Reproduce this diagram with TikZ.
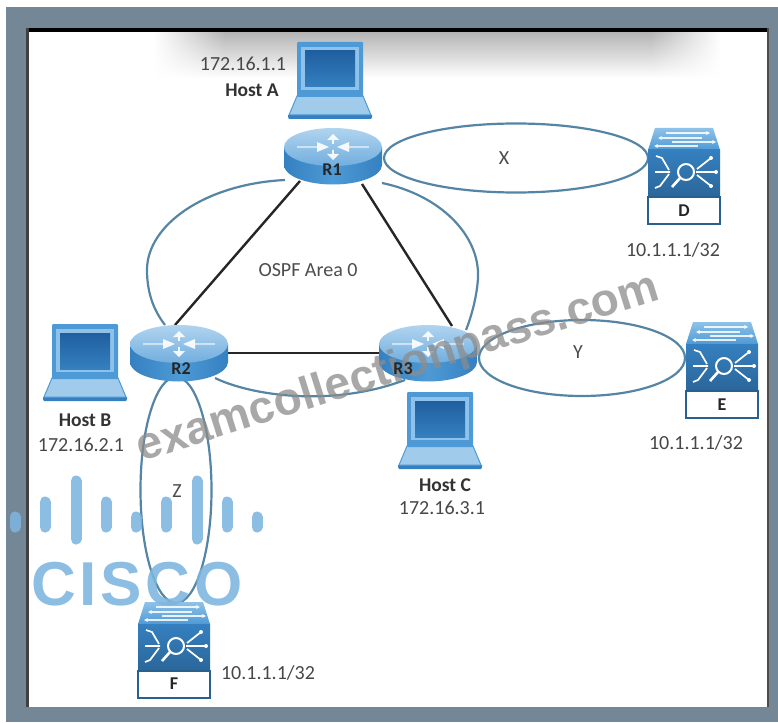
\documentclass[tikz,border=0pt]{standalone}
\usepackage{fontspec}
\setmainfont{Carlito}
\newfontfamily\wmfont{Liberation Sans}
\newfontfamily\ciscofont[LetterSpace=6]{Liberation Sans}
\usetikzlibrary{shapes.geometric,fadings,calc,arrows.meta}
\tikzfading[name=clearright,left color=transparent!0,right color=transparent!100]
\tikzfading[name=clearleft,left color=transparent!100,right color=transparent!0]
\definecolor{frameC}{HTML}{748797}
\definecolor{linkC}{HTML}{5585A5}
\definecolor{blueD}{HTML}{3580C0}
\definecolor{blueM}{HTML}{4E9AD6}
\definecolor{blueL}{HTML}{8FC2E8}
\definecolor{screenD}{HTML}{1F5F9F}
\definecolor{logoC}{HTML}{7DB5DF}
\tikzset{
  x=1pt,y=-1pt,
  ip/.style={font=\fontsize{20}{20}\selectfont,text=black!72,inner sep=0pt},
  host/.style={font=\fontsize{19.5}{19.5}\selectfont\bfseries,text=black!80,inner sep=0pt},
  tag/.style={font=\fontsize{18}{18}\selectfont\bfseries,text=black!85,inner sep=0pt},
  thin label/.style={font=\fontsize{20}{20}\selectfont,text=black!70,inner sep=0pt},
  anchorbox/.style={inner sep=0pt,minimum width=98pt,minimum height=57pt},
  swbox/.style={inner sep=0pt,minimum width=72pt,minimum height=97pt},
  linkline/.style={draw=black!85,line width=2.4pt},
  area/.style={draw=linkC,line width=2.2pt},
  loopring/.style={draw=linkC,line width=2.2pt,ellipse,inner sep=0pt},
  bar/.style={line width=11pt,line cap=round,draw=logoC,opacity=.88},
  pics/router/.style={code={
    \shade[left color=blueD,right color=blueD,middle color=blueM] (-49,-9) -- (-49,9) arc[start angle=180,end angle=360,x radius=49pt,y radius=19.5pt] -- (49,-9) -- cycle;
    \shade[top color=blueL!70!white,bottom color=blueM!80!white] (0,-9) ellipse[x radius=49pt,y radius=19pt];
    \draw[white,opacity=.55,line width=1.2pt] (-36,-9) -- (-15,-9) (15,-9) -- (36,-9);
    \fill[white,opacity=.9] (-16,-14) -- (-4,-9) -- (-16,-4) -- cycle
                            (16,-14) -- (4,-9) -- (16,-4) -- cycle
                            (-6,-16) -- (0,-22) -- (6,-16) -- cycle
                            (-6,-2) -- (0,4) -- (6,-2) -- cycle;
    \draw[white,opacity=.9,line width=1.6pt] (0,-16) -- (0,-12) (0,-6) -- (0,-2);
  }},
  pics/laptop/.style={code={
    \fill[blueD] (-9,73) -- (75,73) -- (75,75) -- (74,77) -- (-8,77) -- (-9,75) -- cycle;
    \fill[blueL!85!white,draw=blueM,line width=1pt] (0,54) -- (66,54) -- (74,73) -- (-8,73) -- cycle;
    \fill[blueM,rounded corners=1pt] (0,0) rectangle (66,55);
    \fill[blueL] (4,5) rectangle (62,48);
    \shade[top color=screenD,bottom color=blueD] (8,9) rectangle (58,45);
  }},
  pics/switchbox/.style={code={
    \shade[top color=blueL,bottom color=blueM] (7,-22) -- (65,-22) -- (72,0) -- (0,0) -- cycle;
    \draw[white,opacity=.85,line width=1.1pt,-{Stealth[length=4pt,width=4pt]}] (18,-17) -- (62,-17);
    \draw[white,opacity=.85,line width=1.1pt,-{Stealth[length=4pt,width=4pt]}] (54,-12) -- (10,-12);
    \draw[white,opacity=.85,line width=1.1pt,-{Stealth[length=4pt,width=4pt]}] (24,-8) -- (68,-8);
    \draw[white,opacity=.85,line width=1.1pt,-{Stealth[length=4pt,width=4pt]}] (50,-4) -- (6,-4);
    \shade[top color=blueD,bottom color=blueD!80!black] (0,0) rectangle (72,47);
    \draw[white,line width=2pt] (38,22) circle[radius=8pt];
    \draw[white,line width=2.6pt] (32,28) -- (24,37);
    \draw[white,line width=1.7pt] (22,22) -- (7,22) (21,20) -- (14,8) -- (8,6) (21,24) -- (12,36) -- (7,38);
    \draw[white,line width=1.7pt] (48,22) -- (68,22) (49,19) -- (63,8) (49,25) -- (63,36);
    \fill[white] (63,8) circle[radius=2pt] (63,36) circle[radius=2pt] (68,22) circle[radius=2pt];
    \fill[white,draw=blueD!75!black,line width=1.5pt] (0,47) rectangle (72,74);
  }},
}
\begin{document}
\begin{tikzpicture}
\useasboundingbox (0,0) rectangle (778,722);
\fill[white] (0,0) rectangle (778,722);
\fill[frameC] (6,7) rectangle (778,722);
\fill[white] (27,30) rectangle (768,707);
% soft shadow at the top of the slide
\shade[top color=black!30,bottom color=white] (155,31) rectangle (720,78);
\fill[white,path fading=clearright] (154,30) rectangle (225,80);
\fill[white,path fading=clearleft] (650,30) rectangle (721,80);
\fill[black] (26,28) rectangle (768,32);
\fill[black!75] (26,28) rectangle (28.5,707);
\fill[black!70] (767,28) rectangle (769,707);
% hit boxes for routers and switches
\node[anchorbox] (R1) at (333,156) {};
\node[anchorbox] (R2) at (179,353) {};
\node[anchorbox] (R3) at (428,353) {};
\node[swbox] (D) at (684,177) {};
\node[swbox] (E) at (722,370) {};
\node[swbox] (F) at (174,650) {};
% OSPF area outline
\draw[area] ([shift={(-48,24)}]R1.center) .. controls (205,184) and (147,225) .. (147,270) .. controls (147,295) and (155,312) .. ([shift={(-14,-28)}]R2.center);
\draw[area] ([shift={(49,27)}]R1.center) .. controls (440,195) and (480,235) .. (478,278) .. controls (477,295) and (472,315) .. ([shift={(38,-23)}]R3.center);
\draw[area] ([shift={(36,25)}]R2.center) .. controls (250,395) and (330,408) .. ([shift={(-23,27)}]R3.center);
% links
\draw[linkline] ([shift={(-33,25)}]R1.center) -- ([shift={(-4,-28)}]R2.center);
\draw[linkline] ([shift={(29,28)}]R1.center) -- ([shift={(24,-27)}]R3.center);
\draw[linkline] (R2.center) -- (R3.center);
% pieces of equipment
\node[loopring,minimum width=264pt,minimum height=69pt] (Xr) at (516,158) {};
\node[loopring,minimum width=206pt,minimum height=76pt] (Yr) at (582,358) {};
\node[loopring,minimum width=71pt,minimum height=226pt] (Zr) at (176,490) {};
\pic at (333,156) {router};
\pic at (179,353) {router};
\pic at (428,353) {router};
\pic at (297,42) {laptop};
\pic at (52,324) {laptop};
\pic at (407,392) {laptop};
\pic at (648,150) {switchbox};
\pic at (686,344) {switchbox};
\pic at (138,624) {switchbox};
% labels
\node[tag] (R1t) at (332,170) {R1};
\node[tag] (R2t) at (181,369) {R2};
\node[tag] (Dt) at (684,211) {D};
\node[tag] (Et) at (722,405) {E};
\node[tag] (Ft) at (174,684) {F};
\node[ip] (ipA) at (243,64) {172.16.1.1};
\node[host] (hA) at (252,90) {Host A};
\node[host] (hB) at (85,420) {Host B};
\node[ip] (ipB) at (81,445) {172.16.2.1};
\node[host] (hC) at (445,485) {Host C};
\node[ip] (ipC) at (442,508) {172.16.3.1};
\node[ip] (ipD) at (673,250) {10.1.1.1/32};
\node[ip] (ipE) at (696,443) {10.1.1.1/32};
\node[ip] (ipF) at (268,673) {10.1.1.1/32};
\node[thin label] (ospf) at (308,270) {OSPF Area 0};
\node[thin label] (Xt) at (504,158) {X};
\node[thin label] (Yt) at (578,352) {Y};
\node[thin label] (Zt) at (177,491) {Z};
% watermark
\node[inner sep=0pt,rotate=17.4,text=black!45,opacity=.75,font=\fontsize{46}{46}\selectfont\wmfont\bfseries] (wm) at (398,369) {examcollectionpass.com};
\node[tag] (R3t) at (403,369) {R3};
% logo
\draw[bar] (15,517) -- (15,527);
\draw[bar] (45,502) -- (45,527);
\draw[bar] (76,481) -- (76,539);
\draw[bar] (106,502) -- (106,527);
\draw[bar] (136,517) -- (136,527);
\draw[bar] (166,502) -- (166,527);
\draw[bar] (197,481) -- (197,539);
\draw[bar] (227,502) -- (227,527);
\draw[bar] (257,517) -- (257,527);
\node[inner sep=0pt,text=logoC,opacity=.88,font=\fontsize{62}{62}\selectfont\ciscofont\bfseries] (cisco) at (137,584) {CISCO};
\end{tikzpicture}
\end{document}
